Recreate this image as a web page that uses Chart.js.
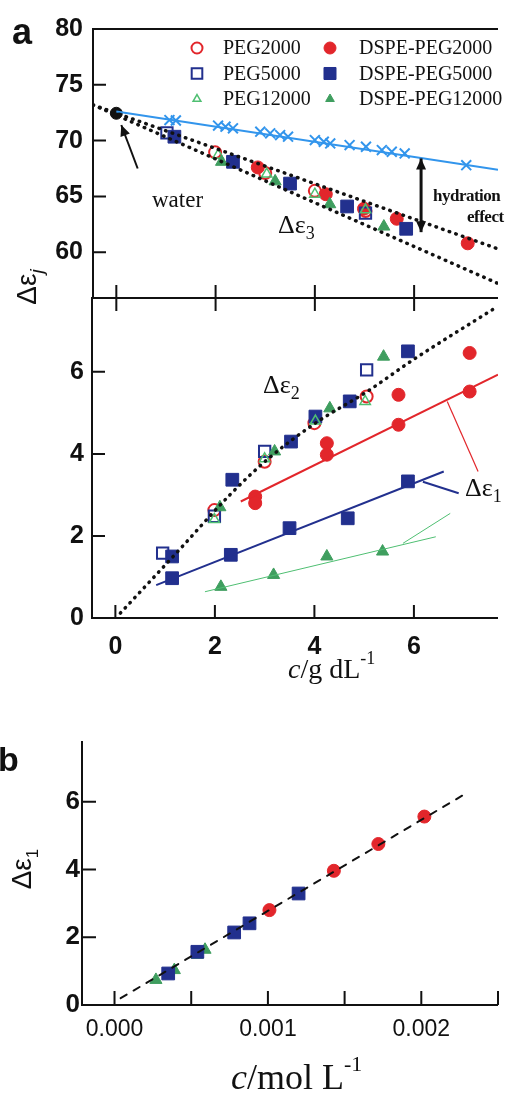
<!DOCTYPE html>
<html lang="en">
<head>
<meta charset="utf-8">
<title>Δε vs c</title>
<script src="https://cdn.jsdelivr.net/npm/chart.js@4.4.0/dist/chart.umd.min.js"></script>
<style>
body{margin:0;width:508px;height:1097px;overflow:hidden;background:#fff;position:relative;color:#111;font-family:"Liberation Serif",serif}
canvas{position:absolute;left:0}
.t{position:absolute;white-space:nowrap;line-height:1}
.sans{font-family:"Liberation Sans",Arial,sans-serif}
.rot{transform:translate(-50%,-50%) rotate(-90deg)}
sub,sup{line-height:0}
</style>
</head>
<body>

<canvas id="cTop" width="508" height="330" style="top:0"></canvas>
<canvas id="cBot" width="508" height="432" style="top:268px"></canvas>
<canvas id="cB"   width="508" height="397" style="top:700px"></canvas>

<!-- panel letters, axis titles, labels -->
<div class="t sans" style="left:12px;top:14px;font-size:36px;font-weight:bold">a</div>
<div class="t sans" style="left:-2px;top:742px;font-size:34px;font-weight:bold">b</div>
<div class="t sans rot" style="left:27px;top:287px;font-size:28px">Δε<sub style="font-size:19px"><i>j</i></sub></div>
<div class="t sans rot" style="left:22px;top:869px;font-size:28px">Δε<sub style="font-size:17px">1</sub></div>
<div class="t" style="left:152px;top:188px;font-size:23px">water</div>
<div class="t" style="left:278px;top:212px;font-size:26px">Δε<sub style="font-size:18px">3</sub></div>
<div class="t" style="left:263px;top:372px;font-size:26px">Δε<sub style="font-size:18px">2</sub></div>
<div class="t" style="left:465px;top:475px;font-size:26px">Δε<sub style="font-size:18px">1</sub></div>
<div class="t" style="left:433px;top:187px;font-size:17px;font-weight:bold;letter-spacing:-.5px">hydration</div>
<div class="t" style="left:467px;top:208px;font-size:17px;font-weight:bold;letter-spacing:-.5px">effect</div>
<div class="t" style="left:288px;top:655px;font-size:28px"><i>c</i>/g dL<sup style="font-size:18px;vertical-align:14px">-1</sup></div>
<div class="t" style="left:231px;top:1059px;font-size:36px"><i>c</i>/mol L<sup style="font-size:22px;vertical-align:18px">-1</sup></div>

<script>
/* ---------- tick values ---------- */
const aXTicks    = [0, 2, 4, 6];
const aTopYTicks = [60, 65, 70, 75, 80];
const aBotYTicks = [0, 2, 4, 6];
const bXTicks    = [0, 0.0005, 0.001, 0.0015, 0.002, 0.0025];
const bXLabels   = [0, 0.001, 0.002];
const bYTicks    = [0, 2, 4, 6];

/* ---------- panel a, upper: Δε3 (c in g/dL) ---------- */
const water      = [[0, 72.45]];
const hydrX      = [[1.07,71.84],[1.2,71.8],[2.05,71.35],[2.2,71.25],[2.35,71.1],[2.9,70.8],[3.1,70.65],
                    [3.3,70.5],[3.46,70.35],[4.0,70.05],[4.18,69.9],[4.31,69.75],[4.7,69.6],[5.03,69.45],
                    [5.35,69.15],[5.55,69.0],[5.81,68.85],[7.05,67.8]];
const hydrLine   = [[0, 72.6], [7.69, 67.4]];
const e3FitUpper = [[-0.47, 73.2], [7.69, 60.3]];
const e3FitLower = [[-0.47, 73.2], [7.69, 57.2]];
const e3_PEG2000   = [[1.99,68.95],[3.0,67.1],[4.0,65.5],[5.02,63.7]];
const e3_DSPE2000  = [[2.85,67.6],[4.22,65.2],[4.99,63.9],[5.65,63.0],[7.08,60.8]];
const e3_PEG5000   = [[1.02,70.7],[5.02,63.5]];
const e3_DSPE5000  = [[1.17,70.35],[2.35,68.1],[3.5,66.15],[4.65,64.1],[5.84,62.1]];
const e3_PEG12000  = [[2.05,68.7],[3.03,67.0],[4.0,65.2],[5.02,63.8]];
const e3_DSPE12000 = [[2.12,68.1],[3.2,66.35],[4.3,64.3],[5.39,62.3]];
const waterArrow = [[0.43, 67.5], [0.1, 71.4]];
const hydrArrow  = [[6.14, 68.4], [6.14, 61.8]];

/* ---------- panel a, lower: Δε2 and Δε1 ---------- */
const e2Fit        = [[0.1,0.12],[1.2,1.55],[2.3,3.0],[3.04,3.85],[4.02,4.75],[5.06,5.52],[5.98,6.29],[7.69,7.6]];
const e2_PEG2000   = [[1.99,2.63],[3.0,3.81],[4.0,4.75],[5.05,5.4]];
const e2_PEG5000   = [[0.95,1.58],[1.99,2.48],[3.0,4.06],[5.05,6.05]];
const e2_PEG12000  = [[1.99,2.4],[3.0,3.88],[4.02,4.8],[5.02,5.28]];
const e2_DSPE2000  = [[2.81,2.96],[4.25,4.26],[5.69,5.44],[7.12,6.46]];
const e2_DSPE5000  = [[1.14,1.5],[2.35,3.37],[3.53,4.3],[4.02,4.91],[4.71,5.28],[5.88,6.5]];
const e2_DSPE12000 = [[2.1,2.7],[3.2,4.06],[4.31,5.11],[5.39,6.37]];
const e1_DSPE2000  = [[2.81,2.8],[4.25,3.98],[5.69,4.71],[7.12,5.52]];
const e1_DSPE5000  = [[1.14,0.97],[2.32,1.54],[3.5,2.19],[4.67,2.43],[5.88,3.33]];
const e1_DSPE12000 = [[2.12,0.76],[3.18,1.05],[4.25,1.5],[5.37,1.62]];
const e1FitRed     = [[2.52,2.84],[7.69,5.93]];
const e1FitBlue    = [[0.82,0.8],[6.6,3.57]];
const e1FitGreen   = [[1.8,0.64],[6.44,1.98]];
const e1FitGreen2  = [[5.78,1.82],[6.73,2.55]];
const leaderRed    = [[6.67,5.28],[7.29,3.57]];
const leaderBlue   = [[6.18,3.32],[6.9,3.04]];

/* ---------- panel b: Δε1 vs c (mol/L) ---------- */
const b_DSPE2000  = [[0.00101,2.8],[0.00143,3.96],[0.00172,4.75],[0.00202,5.56]];
const b_DSPE5000  = [[0.00035,0.93],[0.00054,1.57],[0.00078,2.14],[0.00088,2.41],[0.0012,3.29]];
const b_DSPE12000 = [[0.00027,0.74],[0.00039,1.03],[0.00054,1.48],[0.00059,1.63]];
const bFit        = [[0.00004,0.2],[0.00229,6.24]];

const legendLabels = ['PEG2000','DSPE-PEG2000','PEG5000','DSPE-PEG5000','PEG12000','DSPE-PEG12000'];

/* ---------- styles ---------- */
const C = {red:'#e2262b', blue:'#22308e', green:'#3f9e5f', lgreen:'#4fbf72', sky:'#3295ec', ink:'#111'};
const none = 'rgba(0,0,0,0)';
const xy = a => a.map(([x, y]) => ({x, y}));

function pts(data, style, color, filled, r, bw, order = 2) {
  return { data: xy(data), showLine: false, pointStyle: style, pointRadius: r, pointHoverRadius: r,
    pointBackgroundColor: filled ? color : none, pointBorderColor: color, pointBorderWidth: bw, order };
}
function line(data, color, width, dash, order = 1, smooth = false) {
  return { data: xy(data), showLine: true, pointRadius: 0, borderColor: color, borderWidth: width,
    borderDash: dash || [], borderCapStyle: dash ? 'round' : 'butt', order,
    cubicInterpolationMode: smooth ? 'monotone' : 'default' };
}
const dots = [0.5, 6.5];

// series markers (shared by plots and legend)
const M = {
  PEG2000:   {style:'circle',   color:C.red,    filled:false, r:6,   bw:2},
  DSPE2000:  {style:'circle',   color:C.red,    filled:true,  r:6.5, bw:1},
  PEG5000:   {style:'rect',     color:C.blue,   filled:false, r:8,   bw:2},
  DSPE5000:  {style:'rect',     color:C.blue,   filled:true,  r:9,   bw:1},
  PEG12000:  {style:'triangle', color:C.lgreen, filled:false, r:6,   bw:1.5},
  DSPE12000: {style:'triangle', color:C.green,  filled:true,  r:7,   bw:1}
};
const P = (data, m, order) => pts(data, m.style, m.color, m.filled, m.r, m.bw, order);

const sansBold = {family:'"Liberation Sans", Arial, sans-serif', size:25, weight:'bold'};
const sansReg  = {family:'"Liberation Sans", Arial, sans-serif', size:23, weight:'normal'};

function axis(min, max, labels, font, pad, size, horiz, fmt) {
  return {
    type: 'linear', min, max,
    grid: {display:false, drawTicks:false}, border: {display:false},
    afterBuildTicks: s => { s.ticks = labels.map(v => ({value: v})); },
    afterFit: s => { if (horiz) s.height = size; else s.width = size; },
    ticks: {font, color: C.ink, padding: pad, callback: fmt || (v => String(v))}
  };
}

/* ---------- plugins: frame/ticks, arrows, legend ---------- */
const frame = {
  id: 'frame',
  afterDatasetsDraw(chart, args, o) {
    const {ctx, chartArea: a, scales: {x, y}} = chart;
    ctx.save();
    ctx.strokeStyle = C.ink; ctx.lineWidth = 2;
    ctx.beginPath();
    if (o.left)   { ctx.moveTo(a.left, a.top - 1); ctx.lineTo(a.left, a.bottom + 1); }
    if (o.top)    { ctx.moveTo(a.left, a.top); ctx.lineTo(a.right, a.top); }
    if (o.bottom) { ctx.moveTo(a.left, a.bottom); ctx.lineTo(a.right, a.bottom); }
    (o.xTicks || []).forEach(v => {
      const p = x.getPixelForValue(v);
      ctx.moveTo(p, a.bottom + (o.xOut || 0)); ctx.lineTo(p, a.bottom - o.len);
    });
    (o.yTicks || []).forEach(v => {
      const p = y.getPixelForValue(v);
      ctx.moveTo(a.left, p); ctx.lineTo(a.left + o.len, p);
    });
    ctx.stroke();
    ctx.restore();
  }
};

function head(ctx, x1, y1, x2, y2, L, W) {
  const ang = Math.atan2(y2 - y1, x2 - x1);
  ctx.beginPath();
  ctx.moveTo(x2, y2);
  ctx.lineTo(x2 - L * Math.cos(ang) + W * Math.sin(ang), y2 - L * Math.sin(ang) - W * Math.cos(ang));
  ctx.lineTo(x2 - L * Math.cos(ang) - W * Math.sin(ang), y2 - L * Math.sin(ang) + W * Math.cos(ang));
  ctx.closePath(); ctx.fill();
}
const arrows = {
  id: 'arrows',
  afterDatasetsDraw(chart, args, o) {
    const {ctx, scales: {x, y}} = chart;
    (o.list || []).forEach(ar => {
      const x1 = x.getPixelForValue(ar.pts[0][0]), y1 = y.getPixelForValue(ar.pts[0][1]);
      const x2 = x.getPixelForValue(ar.pts[1][0]), y2 = y.getPixelForValue(ar.pts[1][1]);
      ctx.save();
      ctx.strokeStyle = ctx.fillStyle = C.ink; ctx.lineWidth = ar.w;
      ctx.beginPath(); ctx.moveTo(x1, y1); ctx.lineTo(x2, y2); ctx.stroke();
      head(ctx, x1, y1, x2, y2, 11, 5);
      if (ar.both) head(ctx, x2, y2, x1, y1, 11, 5);
      ctx.restore();
    });
  }
};

const legendBox = {
  id: 'legendBox',
  afterDraw(chart, args, o) {
    const ctx = chart.ctx;
    o.items.forEach((m, i) => {
      const col = i % 2, row = Math.floor(i / 2);
      const cy = o.rows[row];
      ctx.save();
      ctx.strokeStyle = m.color; ctx.fillStyle = m.filled ? m.color : none; ctx.lineWidth = m.bw;
      Chart.helpers.drawPoint(ctx, {pointStyle: m.style, radius: m.lr, rotation: 0, borderWidth: m.bw}, o.mx[col], cy);
      ctx.restore();
      ctx.save();
      ctx.fillStyle = C.ink; ctx.font = '20px "Liberation Serif", serif';
      ctx.textBaseline = 'middle';
      ctx.fillText(legendLabels[i], o.tx[col], cy + 1);
      ctx.restore();
    });
  }
};

const base = {responsive:false, animation:false, events:[]};
const noPlug = {legend:{display:false}, tooltip:{enabled:false}};

/* ---------- panel a, upper ---------- */
new Chart(document.getElementById('cTop'), {
  type: 'scatter',
  data: {datasets: [
    line(e3FitUpper, C.ink, 3.5, dots, 0),
    line(e3FitLower, C.ink, 3.5, dots, 0),
    line(hydrLine, C.sky, 2, null, 1),
    pts(hydrX, 'crossRot', C.sky, false, 7, 2, 1),
    P(e3_DSPE12000, M.DSPE12000), P(e3_PEG12000, M.PEG12000),
    P(e3_DSPE5000, M.DSPE5000),   P(e3_PEG5000, M.PEG5000),
    P(e3_DSPE2000, M.DSPE2000),   P(e3_PEG2000, M.PEG2000),
    pts(water, 'circle', C.ink, true, 6, 1, 1)
  ]},
  options: {...base,
    layout: {padding: {top: 29, bottom: 32, left: 0, right: 0}},
    plugins: {...noPlug,
      frame: {left:true, top:true, bottom:true, xTicks:aXTicks, xOut:13, yTicks:aTopYTicks, len:13},
      arrows: {list: [{pts: waterArrow, w: 2}, {pts: hydrArrow, w: 3, both: true}]},
      legendBox: {
        items: [
          {...M.PEG2000, lr:5.5},  {...M.DSPE2000, lr:6},
          {...M.PEG5000, lr:7.5},  {...M.DSPE5000, lr:8.5},
          {...M.PEG12000, lr:4.5}, {...M.DSPE12000, lr:5}
        ],
        mx: [197, 330], tx: [223, 359], rows: [48, 73.5, 99]
      }
    },
    scales: {
      x: {type:'linear', display:false, min:-0.47, max:7.69},
      y: axis(55.9, 80, aTopYTicks, sansBold, 10, 93, false)
    }
  },
  plugins: [frame, arrows, legendBox]
});

/* ---------- panel a, lower ---------- */
new Chart(document.getElementById('cBot'), {
  type: 'scatter',
  data: {datasets: [
    line(e2Fit, C.ink, 3.5, dots, 0, true),
    line(e1FitRed, C.red, 2),
    line(e1FitBlue, C.blue, 2),
    line(e1FitGreen, C.lgreen, 1),
    line(e1FitGreen2, C.lgreen, 1),
    line(leaderRed, C.red, 1.2),
    line(leaderBlue, C.blue, 2),
    P(e1_DSPE12000, M.DSPE12000), P(e1_DSPE5000, M.DSPE5000), P(e1_DSPE2000, M.DSPE2000),
    P(e2_DSPE12000, M.DSPE12000), P(e2_PEG12000, M.PEG12000),
    P(e2_DSPE5000, M.DSPE5000),   P(e2_PEG5000, M.PEG5000),
    P(e2_DSPE2000, M.DSPE2000),   P(e2_PEG2000, M.PEG2000)
  ]},
  options: {...base,
    layout: {padding: {top: 30, bottom: 0, left: 0, right: 0}},
    plugins: {...noPlug,
      frame: {left:true, bottom:true, xTicks:aXTicks, yTicks:aBotYTicks, len:13}
    },
    scales: {
      x: axis(-0.47, 7.69, aXTicks, sansBold, 14, 82, true),
      y: axis(0, 7.8, aBotYTicks, sansBold, 8, 92, false)
    }
  },
  plugins: [frame]
});

/* ---------- panel b ---------- */
new Chart(document.getElementById('cB'), {
  type: 'scatter',
  data: {datasets: [
    line(bFit, C.ink, 2, [7, 8], 0),
    P(b_DSPE5000, M.DSPE5000), P(b_DSPE12000, M.DSPE12000), P(b_DSPE2000, M.DSPE2000)
  ]},
  options: {...base,
    layout: {padding: {top: 42, bottom: 0, left: 0, right: 3}},
    plugins: {...noPlug,
      frame: {left:true, bottom:true, xTicks:bXTicks, yTicks:bYTicks, len:14}
    },
    scales: {
      x: axis(-0.000212, 0.0025, bXLabels, sansReg, 11, 92, true, v => v.toFixed(3)),
      y: axis(0, 7.76, bYTicks, {...sansBold, size:26}, 2, 82, false)
    }
  },
  plugins: [frame]
});
</script>
</body>
</html>
